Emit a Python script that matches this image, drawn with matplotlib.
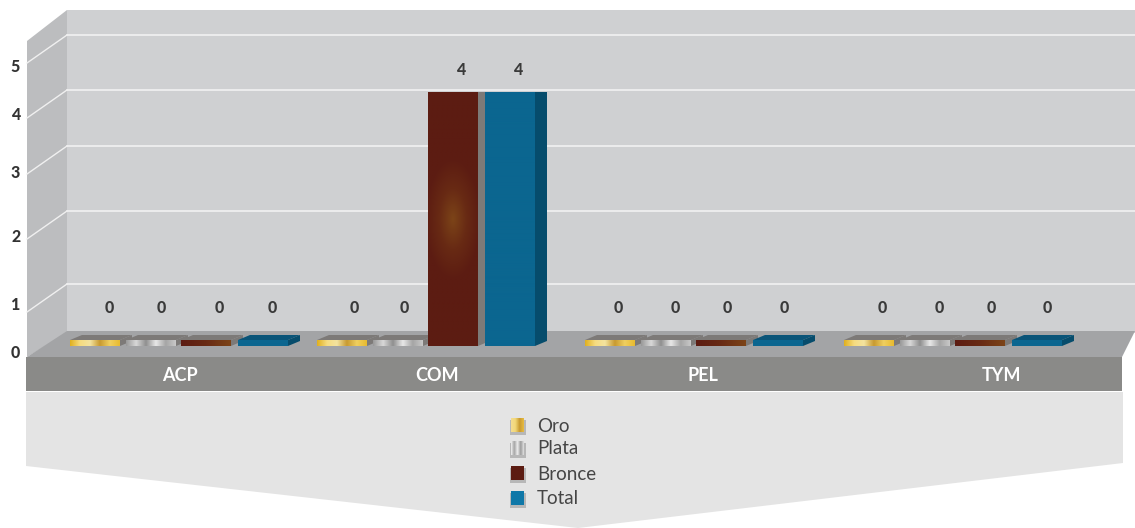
import numpy as np
import matplotlib
matplotlib.use("Agg")
import matplotlib.pyplot as plt
from matplotlib.patches import Polygon
from matplotlib.colors import LinearSegmentedColormap as LSC

plt.rcParams['font.family'] = ['Lato', 'DejaVu Sans']

categories = ['ACP', 'COM', 'PEL', 'TYM']
oro = [0, 0, 0, 0]
plata = [0, 0, 0, 0]
bronce = [0, 4, 0, 0]
total = [0, 4, 0, 0]
series_names = ['Oro', 'Plata', 'Bronce', 'Total']
y_tick_labels = ['0', '1', '2', '3', '4', '5']

# layout (pixels)
W, H = 1135, 528
group_left = [70, 317, 585, 844]
bar_offsets = [0, 56, 111, 168]
bar_w = 50
label_px = [[109, 161, 219, 272], [354, 404, 461, 518], [618, 675, 727, 784], [882, 939, 991, 1047]]
cat_label_px = [180, 437, 703, 1001]
y_tick_px = [351, 303, 235, 171, 114, 65]
grid_px = [284, 211, 146, 90, 35]
base_px, top4_px = 346, 92
unit = (base_px - top4_px) / 4  # pixels per value
min_h = 6 / unit

fig = plt.figure(figsize=(W / 100, H / 100), dpi=100, facecolor='white')
bg = fig.add_axes([0, 0, 1, 1])
bg.set_xlim(0, W)
bg.set_ylim(H, 0)
bg.set_facecolor('white')
for s in bg.spines.values():
    s.set_visible(False)

def poly(pts, c, z=1):
    bg.add_patch(Polygon(pts, closed=True, fc=c, ec='none', zorder=z))

poly([(67, 10), (W, 10), (W, 333), (67, 333)], '#cfd0d2')
poly([(27, 41), (67, 10), (67, 333), (27, 357)], '#bcbdbf')
poly([(27, 357), (67, 331), (W, 331), (1122, 357)], '#a3a4a6')
poly([(26, 357), (1122, 357), (1122, 391), (26, 391)], '#8a8a88')
poly([(26, 392), (1123, 392), (1123, 463), (578, 528), (26, 466)], '#e4e4e4')
for g in grid_px:
    bg.plot([67, W], [g, g], color='#f4f4f4', lw=1.1, zorder=2)
    bg.plot([27, 67], [g + 28, g], color='#f0f0f0', lw=1.0, zorder=2)

bg.set_xticks([])
bg.set_yticks(y_tick_px)
bg.set_yticklabels(y_tick_labels, fontsize=11.5, fontweight='black', color='#333333')
bg.tick_params(axis='y', length=0, pad=-14.5)

ax = fig.add_axes([0, (H - base_px) / H, 1, (base_px - top4_px) / H])
ax.patch.set_visible(False)
for s in ax.spines.values():
    s.set_visible(False)

gold = LSC.from_list('g', ['#e0b020', '#f6dc80', '#f3e3a0', '#c89a30', '#f0cf60', '#e8bb30'])
silver = LSC.from_list('s', ['#9a9a9a', '#d8d8d8', '#8f8f8f', '#e8e8e8', '#a5a5a5', '#c8c8c8'])
bron = LSC.from_list('b', ['#5c1c12', '#682a14', '#7c4418'])
blue = LSC.from_list('t', ['#0b6690', '#0b6690'])
cmaps = [gold, silver, bron, blue]
top_c = ['#7d7a78', '#7d7a78', '#7d7a78', '#0a5478']
side_c = ['#7d7a78', '#7d7a78', '#7d7a78', '#064c6c']
series = [oro, plata, bronce, total]

def fill(bar, cmap, radial=False):
    x0, w = bar.get_x(), bar.get_width()
    h = bar.get_height()
    if radial:
        yy, xx = np.mgrid[-1:1:200j, -1:1:60j]
        img = np.clip(1 - np.hypot(xx * 0.9, yy * 2.1), 0, 1)
    else:
        img = np.linspace(0, 1, 100).reshape(1, -1)
    ax.imshow(img, cmap=cmap, extent=(x0, x0 + w, 0, h), aspect='auto', zorder=3, vmin=0, vmax=1)

for si, vals in enumerate(series):
    xs = [g + bar_offsets[si] + bar_w / 2 for g in group_left]
    hs = [max(v, min_h) for v in vals]
    bars = ax.bar(xs, hs, width=bar_w, color='none', zorder=3)
    for ci, b in enumerate(bars):
        v = vals[ci]
        fill(b, cmaps[si], radial=(si == 2 and v > 0))
        x0, x1, h = b.get_x(), b.get_x() + bar_w, b.get_height()
        dx, dy = (12, 5 / unit)
        ax.add_patch(Polygon([(x0, h), (x0 + dx, h + dy), (x1 + dx, h + dy), (x1, h)],
                             fc=top_c[si], ec='none', zorder=2.5))
        ax.add_patch(Polygon([(x1, 0), (x1 + dx, dy), (x1 + dx, h + dy), (x1, h)],
                             fc=side_c[si], ec='none', zorder=2.5))
        extra = 32 if v == 0 else 22
        ax.annotate(str(v), (label_px[ci][si], h), xytext=(0, extra * 0.72),
                    textcoords='offset points', ha='center', va='center',
                    fontsize=11.5, fontweight='black', color='#3a3a3a', zorder=5)

ax.set_xlim(0, W)
ax.set_ylim(0, 4)
ax.set_yticks([])
ax.set_xticks(cat_label_px)
ax.set_xticklabels(categories, fontsize=13, color='white', fontweight='bold')
ax.tick_params(axis='x', length=0, pad=15)

# legend
leg = fig.add_axes([0, 0, 1, 1])
leg.set_xlim(0, W)
leg.set_ylim(H, 0)
leg.axis('off')
leg_y = [425, 448, 473, 498]
swatch = [LSC.from_list('lg', ['#f4dc90', '#f2d878', '#c89a30', '#e8bb40']),
          LSC.from_list('ls', ['#efefef', '#a5a5a5', '#eeeeee', '#9c9c9c', '#e0e0e0']),
          LSC.from_list('lb', ['#5c1c12', '#5c1c12']),
          LSC.from_list('lt', ['#0f78a8', '#0f78a8'])]
for name, y, cm in zip(series_names, leg_y, swatch):
    leg.add_patch(Polygon([(510, y - 5), (526, y - 5), (526, y + 10), (510, y + 10)],
                          fc='#9a9a9a', ec='none', alpha=0.6, zorder=1))
    leg.imshow(np.linspace(0, 1, 50).reshape(1, -1), cmap=cm, extent=(511, 524, y + 7, y - 7),
               aspect='auto', zorder=2, vmin=0, vmax=1)
    leg.text(537, y + 1, name, fontsize=13.5, color='#454545', va='center', ha='left', zorder=3)
leg.set_xlim(0, W)
leg.set_ylim(H, 0)

fig.savefig('out.png', dpi=100)
